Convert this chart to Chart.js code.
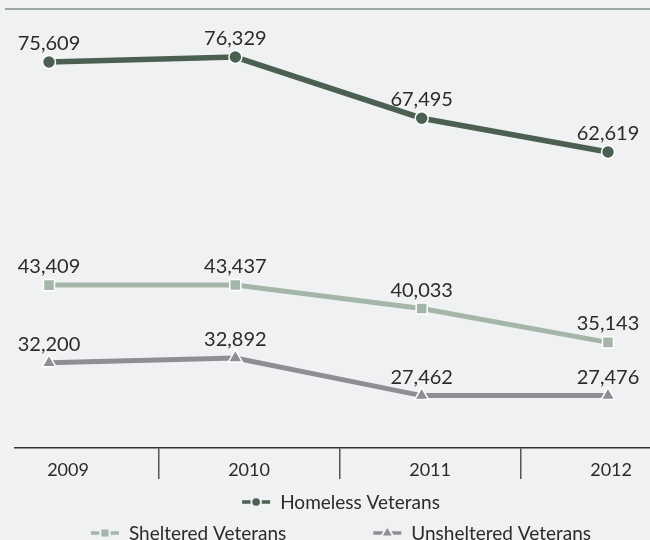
<!DOCTYPE html>
<html>
<head>
<meta charset="utf-8">
<script src="https://cdn.jsdelivr.net/npm/chart.js@4/dist/chart.umd.min.js"></script>
<style>
  html, body { margin: 0; padding: 0; background: #f0f1f3; }
  canvas { display: block; }
</style>
</head>
<body>
<canvas id="graph_1" width="650" height="540"></canvas>
<script>
// data
var years = ['2009', '2010', '2011', '2012'];
var homeless = [75609, 76329, 67495, 62619];
var sheltered = [43409, 43437, 40033, 35143];
var unsheltered = [32200, 32892, 27462, 27476];
var seriesNames = ['Homeless Veterans', 'Sheltered Veterans', 'Unsheltered Veterans'];

var textCol = '#2b2b2b';
var cols = ['#4b5f53', '#a4b6a9', '#8e8f94'];
var styles = ['circle', 'rect', 'triangle'];
var radii = [6.5, 7.8, 8];

Chart.defaults.font.family = 'Lato';
Chart.defaults.color = textCol;

function toPts(arr) {
  var out = [];
  for (var i = 0; i < arr.length; i++) out.push({x: i, y: arr[i]});
  return out;
}

function mkSet(i, arr) {
  return {
    label: seriesNames[i],
    data: toPts(arr),
    xAxisID: 'xp',
    borderColor: cols[i],
    backgroundColor: cols[i],
    borderWidth: i == 0 ? 5.5 : 5,
    tension: 0,
    pointStyle: styles[i],
    pointRadius: radii[i],
    pointHoverRadius: radii[i],
    pointBackgroundColor: cols[i],
    pointBorderColor: '#ffffff',
    pointBorderWidth: 1.5
  };
}

// value labels above each point
var valueLabels = {
  id: 'valueLabels',
  afterDatasetsDraw: function(chart) {
    var ctx = chart.ctx;
    ctx.save();
    ctx.font = '20px Lato';
    ctx.fillStyle = textCol;
    ctx.textAlign = 'center';
    ctx.textBaseline = 'alphabetic';
    chart.data.datasets.forEach(function(ds, di) {
      var meta = chart.getDatasetMeta(di);
      meta.data.forEach(function(el, i) {
        ctx.fillText(ds.data[i].y.toLocaleString('en-US'), el.x, el.y - 12);
      });
    });
    ctx.restore();
  }
};

// top rule
var topRule = {
  id: 'topRule',
  beforeDraw: function(chart) {
    var ctx = chart.ctx, a = chart.chartArea;
    ctx.save();
    ctx.strokeStyle = '#7f8c84';
    ctx.lineWidth = 1.5;
    ctx.beginPath();
    ctx.moveTo(5, a.top);
    ctx.lineTo(chart.width, a.top);
    ctx.stroke();
    ctx.restore();
  }
};

// legend: line + marker symbol, Homeless on first row, the other two on second
var lineLegend = {
  id: 'lineLegend',
  afterDraw: function(chart) {
    var ctx = chart.ctx;
    var rows = [[0], [1, 2]];
    var rowY = [509, 540];
    var symR = [4.8, 6.5, 7];
    var cx = 341, symW = 28, symGap = 10, itemGap = 87;
    ctx.save();
    ctx.font = '19px Lato';
    ctx.textBaseline = 'alphabetic';
    ctx.textAlign = 'left';
    rows.forEach(function(row, r) {
      var widths = row.map(function(k) { return symW + symGap + ctx.measureText(seriesNames[k]).width; });
      var total = widths.reduce(function(a, b) { return a + b; }, 0) + itemGap * (row.length - 1);
      var x = cx - total / 2;
      row.forEach(function(k, j) {
        var ym = rowY[r] - 7;
        ctx.strokeStyle = cols[k];
        ctx.lineWidth = 3.5;
        ctx.beginPath();
        ctx.moveTo(x, ym);
        ctx.lineTo(x + symW, ym);
        ctx.stroke();
        ctx.fillStyle = cols[k];
        ctx.strokeStyle = '#f0f1f3';
        ctx.lineWidth = 2;
        Chart.helpers.drawPoint(ctx, {pointStyle: styles[k], radius: symR[k], borderWidth: 2}, x + symW / 2, ym);
        ctx.fillStyle = textCol;
        ctx.fillText(seriesNames[k], x + symW + symGap, rowY[r]);
        x += widths[j] + itemGap;
      });
    });
    ctx.restore();
  }
};

var ctx = document.getElementById('graph_1');
var myChart = new Chart(ctx, {
  type: 'line',
  data: {
    datasets: [mkSet(0, homeless), mkSet(1, sheltered), mkSet(2, unsheltered)]
  },
  options: {
    responsive: false,
    animation: false,
    devicePixelRatio: 1,
    layout: { autoPadding: false, padding: { top: 9, left: 15, right: 0, bottom: 0 } },
    plugins: {
      legend: { display: false },
      tooltip: { enabled: false }
    },
    scales: {
      xp: {
        type: 'linear',
        display: false,
        min: -0.1825,
        max: 3.2254
      },
      x: {
        type: 'linear',
        position: 'bottom',
        min: -0.293,
        max: 3.215,
        afterBuildTicks: function(scale) {
          var t = [];
          for (var i = 0; i < years.length; i++) {
            t.push({value: i});
            if (i < years.length - 1) t.push({value: i + 0.5});
          }
          scale.ticks = t;
        },
        afterFit: function(scale) { scale.height = 92; },
        border: { display: true, color: '#333333', width: 1.5 },
        grid: {
          drawOnChartArea: false,
          drawTicks: true,
          tickLength: 31,
          lineWidth: 1.5,
          color: function(c) {
            return c.tick && c.tick.value % 1 !== 0 ? '#555555' : 'rgba(0,0,0,0)';
          }
        },
        ticks: {
          autoSkip: false,
          maxRotation: 0,
          padding: -20,
          color: textCol,
          font: { size: 18 },
          callback: function(v) { return v % 1 === 0 ? years[v] : ''; }
        }
      },
      y: {
        display: false,
        min: 19900,
        max: 83260
      }
    }
  },
  plugins: [topRule, valueLabels, lineLegend]
});
</script>
</body>
</html>
